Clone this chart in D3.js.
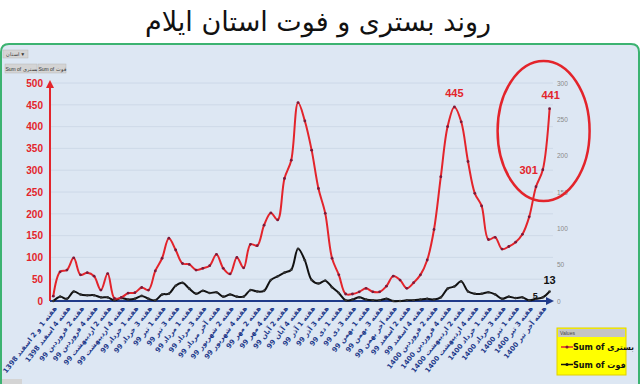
<!DOCTYPE html>
<html>
<head>
<meta charset="utf-8">
<script src="https://cdn.jsdelivr.net/npm/d3@7/dist/d3.min.js"></script>
<style>
html,body{margin:0;padding:0;background:#fff;}
svg{display:block;}
</style>
</head>
<body>
<svg id="c" width="640" height="384"></svg>
<script>
const title = "روند بستری و فوت استان ایلام";
const categories = [
"هفته 1 و 2 اسفند 1398","هفته 3 اسفند 1398","هفته 4 اسفند 1398","هفته 1 فروردین 99","هفته 2 فروردین 99","هفته 3 فروردین 99","هفته 4 فروردین 99","هفته 1 اردیبهشت 99","هفته 2 اردیبهشت 99","هفته 3 اردیبهشت 99",
"هفته 4 اردیبهشت 99","هفته آخر اردیبهشت 99","هفته 1 خرداد 99","هفته 2 خرداد 99","هفته 3 خرداد 99","هفته 4 خرداد 99","هفته 1 تیر 99","هفته 2 تیر 99","هفته 3 تیر 99","هفته 4 تیر 99",
"هفته 1 مرداد 99","هفته 2 مرداد 99","هفته 3 مرداد 99","هفته 4 مرداد 99","هفته آخر مرداد 99","هفته 1 شهریور 99","هفته 2 شهریور 99","هفته 3 شهریور 99","هفته 4 شهریور 99","هفته 1 مهر 99",
"هفته 2 مهر 99","هفته 3 مهر 99","هفته 4 مهر 99","هفته 1 آبان 99","هفته 2 آبان 99","هفته 3 آبان 99","هفته 4 آبان 99","هفته آخر آبان 99","هفته 1 آذر 99","هفته 2 آذر 99",
"هفته 3 آذر 99","هفته 4 آذر 99","هفته 1 دی 99","هفته 2 دی 99","هفته 3 دی 99","هفته 4 دی 99","هفته 1 بهمن 99","هفته 2 بهمن 99","هفته 3 بهمن 99","هفته 4 بهمن 99",
"هفته آخر بهمن 99","هفته 1 اسفند 99","هفته 2 اسفند 99","هفته 3 اسفند 99","هفته 4 اسفند 99","هفته 1 فروردین 1400","هفته 2 فروردین 1400","هفته 3 فروردین 1400","هفته 4 فروردین 1400","هفته 1 اردیبهشت 1400",
"هفته 2 اردیبهشت 1400","هفته 3 اردیبهشت 1400","هفته 4 اردیبهشت 1400","هفته آخر اردیبهشت 1400","هفته 1 خرداد 1400","هفته 2 خرداد 1400","هفته 3 خرداد 1400","هفته 4 خرداد 1400","هفته 1 تیر 1400","هفته 2 تیر 1400",
"هفته 3 تیر 1400","هفته 4 تیر 1400","هفته آخر تیر 1400","هفته جاری تیر 1400"
];
// labelled categories shown on the axis (every second)
const tickLabels = [
"هفته 1 و 2 اسفند 1398","هفته 4 اسفند 1398","هفته 2 فروردین 99","هفته 4 فروردین 99","هفته 2 اردیبهشت 99","هفته 4 اردیبهشت 99","هفته 1 خرداد 99","هفته 3 خرداد 99","هفته 1 تیر 99","هفته 3 تیر 99",
"هفته 1 مرداد 99","هفته 3 مرداد 99","هفته آخر مرداد 99","هفته 2 شهریور 99","هفته 4 شهریور 99","هفته 2 مهر 99","هفته 4 مهر 99","هفته 2 آبان 99","هفته 4 آبان 99","هفته 1 آذر 99",
"هفته 3 آذر 99","هفته 1 دی 99","هفته 3 دی 99","هفته 1 بهمن 99","هفته 3 بهمن 99","هفته آخر بهمن 99","هفته 2 اسفند 99","هفته 4 اسفند 99","هفته 2 فروردین 1400","هفته 4 فروردین 1400",
"هفته 2 اردیبهشت 1400","هفته 4 اردیبهشت 1400","هفته 1 خرداد 1400","هفته 3 خرداد 1400","هفته 1 تیر 1400","هفته 3 تیر 1400","هفته آخر تیر 1400"
];
const hospitalized = [11,67,71,99,60,65,57,25,63,6,8,18,19,31,25,69,98,144,117,86,84,71,75,81,107,75,62,100,76,130,127,174,202,186,281,323,455,413,346,258,201,98,60,16,16,21,29,21,21,34,57,48,29,42,60,94,164,285,400,445,411,320,247,218,141,146,119,125,135,153,193,262,301,441];
const deaths = [0,6,3,13,9,8,8,5,5,1,4,2,3,7,3,1,9,10,21,25,17,10,14,11,12,6,9,6,6,15,13,14,29,34,39,43,72,56,29,24,28,19,11,1,2,5,2,1,1,3,0,0,1,1,2,3,2,5,17,20,27,13,10,10,12,9,3,6,4,5,1,3,5,13];
const leftTicks = [0,50,100,150,200,250,300,350,400,450,500];
const rightTicks = [0,50,100,150,200,250,300];
const seriesNames = ["Sum of بستری","Sum of فوت"];
const annotations = [ {s:0,i:59,t:"445",dx:0,dy:-10,a:"middle"}, {s:0,i:73,t:"441",dx:1,dy:-10,a:"middle"}, {s:0,i:72,t:"301",dx:-5,dy:4,a:"end"}, {s:1,i:73,t:"13",dx:0,dy:-8,a:"middle"}, {s:1,i:72,t:"5",dx:-5,dy:2,a:"end"} ];

const svg = d3.select("#c");
const RED = "#e3242b", NAVY = "#1f3a8a";
const arabicFont = "'DejaVu Sans', 'Noto Sans', sans-serif";
const latinFont = "'Liberation Sans', Arial, sans-serif";

// title
svg.append("text").attr("x",318).attr("y",31).attr("text-anchor","middle")
  .attr("font-family",arabicFont).attr("font-size",27).attr("fill","#111").attr("direction","rtl")
  .text(title);

// panel
svg.append("defs").html(`
<marker id="arrR" viewBox="0 0 10 10" refX="5" refY="5" markerWidth="4" markerHeight="4" orient="auto"><path d="M0,0 L10,5 L0,10 z" fill="${NAVY}"/></marker>
<marker id="arrU" viewBox="0 0 10 10" refX="5" refY="5" markerWidth="4" markerHeight="4" orient="auto"><path d="M0,0 L10,5 L0,10 z" fill="${RED}"/></marker>`);
svg.append("path").attr("d","M1,400 L1,52 Q1,44 9,44 L631,44 Q639,44 639,52 L639,400")
  .attr("fill","#dde7f3").attr("stroke","#3cb371").attr("stroke-width",2);

// pivot buttons
function btn(x,y,w,h,t){
  svg.append("rect").attr("x",x).attr("y",y).attr("width",w).attr("height",h).attr("fill","#d4d4d4").attr("stroke","#b8b8b8").attr("stroke-width",0.5);
  svg.append("text").attr("x",x+w/2).attr("y",y+h/2+2).attr("text-anchor","middle").attr("font-family",latinFont).attr("font-size",5).attr("fill","#333").text(t);
}
btn(3,50,25,8,"استان ▼");
btn(5,64,32,9,"Sum of بستری");
btn(38,64,28,9,"Sum of فوت");
svg.append("rect").attr("x",2).attr("y",379).attr("width",20).attr("height",6).attr("fill","#d4d4d4");

// scales
const x = d3.scalePoint().domain(d3.range(categories.length)).range([53.3,549.6]);
const yL = d3.scaleLinear().domain([0,500]).range([301,83]);
const yR = d3.scaleLinear().domain([0,300]).range([301,83]);

// gridlines
svg.append("g").selectAll("line").data(leftTicks.slice(1)).join("line")
  .attr("x1",50).attr("x2",553).attr("y1",d=>yL(d)).attr("y2",d=>yL(d))
  .attr("stroke","#c9d5e4").attr("stroke-width",0.8);

// left axis
const gl = svg.append("g").attr("transform","translate(50,0)")
  .call(d3.axisLeft(yL).tickValues(leftTicks).tickSize(0).tickPadding(7));
gl.select(".domain").remove();
gl.selectAll("text").attr("fill",RED).attr("font-family",latinFont).attr("font-weight","bold").attr("font-size",10);
svg.append("line").attr("x1",50).attr("x2",50).attr("y1",301).attr("y2",84).attr("stroke",RED).attr("stroke-width",2).attr("marker-end","url(#arrU)");

// right axis
const gr = svg.append("g").attr("transform","translate(557,0)")
  .call(d3.axisRight(yR).tickValues(rightTicks).tickSize(0).tickPadding(0));
gr.select(".domain").remove();
gr.selectAll("text").attr("fill","#8a8a8a").attr("font-family",latinFont).attr("font-size",6.5);

// x axis
svg.append("line").attr("x1",50).attr("x2",550).attr("y1",301).attr("y2",301).attr("stroke",NAVY).attr("stroke-width",2).attr("marker-end","url(#arrR)");
const tickIdx = d3.range(0,categories.length,2);
svg.append("g").selectAll("text").data(tickIdx).join("text")
  .attr("transform",(d)=>`translate(${x(d)+2},307) rotate(-52)`)
  .attr("direction","rtl").attr("text-anchor","start").attr("dy","0.35em")
  .attr("font-family",arabicFont).attr("font-weight","bold").attr("font-size",6.9).attr("fill",NAVY)
  .text((d,k)=>tickLabels[k]);

// lines
const curve = d3.curveCatmullRom.alpha(0.5);
const lineL = d3.line().x((d,i)=>x(i)).y(d=>yL(d)).curve(curve);
const lineR = d3.line().x((d,i)=>x(i)).y(d=>yR(d)).curve(curve);
svg.append("path").attr("d",lineR(deaths)).attr("fill","none").attr("stroke","#111").attr("stroke-width",2);
svg.append("g").selectAll("circle").data(deaths).join("circle").attr("cx",(d,i)=>x(i)).attr("cy",d=>yR(d)).attr("r",1.3).attr("fill","#333");
svg.append("path").attr("d",lineL(hospitalized)).attr("fill","none").attr("stroke",RED).attr("stroke-width",2);
svg.append("g").selectAll("circle").data(hospitalized).join("circle").attr("cx",(d,i)=>x(i)).attr("cy",d=>yL(d)).attr("r",1.4).attr("fill","#7b1a3a");

// annotations
annotations.forEach(a=>{
  const v = a.s===0 ? hospitalized[a.i] : deaths[a.i];
  const yy = a.s===0 ? yL(v) : yR(v);
  svg.append("text").attr("x",x(a.i)+a.dx).attr("y",yy+a.dy).attr("text-anchor",a.a)
    .attr("font-family",latinFont).attr("font-weight","bold").attr("font-size",a.t==="5"?9:11)
    .attr("fill",a.s===0?RED:"#111").text(a.t);
});

// highlight ellipse
svg.append("ellipse").attr("cx",x(73)-6).attr("cy",yR(234)).attr("rx",46).attr("ry",70)
  .attr("fill","none").attr("stroke",RED).attr("stroke-width",2.5);

// legend
const lg = svg.append("g").attr("transform","translate(557,328)");
lg.append("rect").attr("width",69).attr("height",47).attr("fill","#ffff00").attr("stroke","#e0d000").attr("stroke-width",1);
lg.append("rect").attr("x",1).attr("y",1).attr("width",67).attr("height",8).attr("fill","#c4c4c4");
lg.append("text").attr("x",3).attr("y",7).attr("font-family",latinFont).attr("font-size",5).attr("fill","#444").text("Values");
[[RED,0],["#111",1]].forEach(([c,k])=>{
  const yy = 19 + k*17.5;
  lg.append("line").attr("x1",4).attr("x2",16).attr("y1",yy).attr("y2",yy).attr("stroke",c).attr("stroke-width",1.5);
  lg.append("circle").attr("cx",10).attr("cy",yy).attr("r",1.5).attr("fill",c==="#111"?"#111":"#7b1a3a");
  lg.append("text").attr("x",16).attr("y",yy+3).attr("font-family",arabicFont).attr("font-weight","bold").attr("font-size",8).attr("fill","#111").text(seriesNames[k]);
});
</script>
</body>
</html>
